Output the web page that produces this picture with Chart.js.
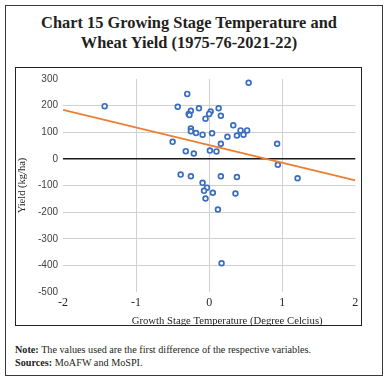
<!DOCTYPE html>
<html>
<head>
<meta charset="utf-8">
<script src="https://cdn.jsdelivr.net/npm/chart.js@4/dist/chart.umd.min.js"></script>
<style>
  html, body { margin:0; padding:0; background:#fff; }
  body { width:388px; height:381px; position:relative; overflow:hidden; font-family:"Liberation Serif","DejaVu Serif",serif; color:#231f20; }
  #frame { position:absolute; left:5px; top:5px; width:378px; height:371px; border:1px solid #3a3a3a; box-sizing:border-box; }
  #title { position:absolute; left:0px; top:13px; width:378px; text-align:center; font-weight:bold; font-size:16.4px; line-height:20px; }
  #box { position:absolute; left:15px; top:67px; width:347px; height:259px; border:1px solid #222; box-sizing:border-box; }
  #box canvas { display:block; }
  #notes { position:absolute; left:15px; top:343px; font-size:10.2px; line-height:13px; }
</style>
</head>
<body>
<div id="frame"></div>
<div id="title">Chart 15 Growing Stage Temperature and<br>Wheat Yield (1975-76-2021-22)</div>
<div id="box"><canvas id="c" width="345" height="257"></canvas></div>
<div id="notes"><b>Note:</b> The values used are the first difference of the respective variables.<br><b>Sources:</b> MoAFW and MoSPI.</div>
<script>
// Growth stage temperature (first difference, °C)
const tempDiff = [-1.43, -0.30, -0.43, -0.25, -0.28, -0.27, -0.14, 0.02, 0.00, 0.13,
                  0.16, -0.05, -0.25, -0.25, -0.18, -0.09, 0.04, 0.16, -0.50, -0.32,
                  -0.21, 0.01, 0.10, 0.25, 0.54, 0.33, 0.43, 0.52, 0.38, 0.47,
                  0.93, 0.94, 1.21, -0.39, -0.25, 0.16, 0.38, -0.09, -0.03, -0.07,
                  0.05, 0.36, -0.05, 0.12, 0.17];
// Wheat yield (first difference, kg/ha)
const yieldDiff = [198, 244, 196, 181, 169, 165, 190, 178, 169, 190,
                   162, 151, 114, 104, 97, 91, 96, 57, 64, 29,
                   20, 31, 28, 83, 286, 126, 107, 107, 88, 91,
                   57, -22, -73, -59, -65, -65, -68, -90, -108, -120,
                   -127, -130, -149, -190, -392];
// Linear trendline end points
const trendX = [-2, 2];
const trendY = [184, -81];
const xTicks = [-2, -1, 0, 1, 2];
const yTicks = [-500, -400, -300, -200, -100, 0, 100, 200, 300];

const points = tempDiff.map((x, i) => ({ x: x, y: yieldDiff[i] }));
const trend = trendX.map((x, i) => ({ x: x, y: trendY[i] }));

const titlePlugin = {
  id: 'axisTitles',
  afterDraw(chart) {
    const ctx = chart.ctx;
    const a = chart.chartArea;
    ctx.save();
    ctx.fillStyle = '#231f20';
    ctx.textAlign = 'center';
    ctx.textBaseline = 'middle';
    ctx.font = '10.7px "Liberation Serif", serif';
    const xs = chart.scales.x;
    ctx.fillText('Growth Stage Temperature (Degree Celcius)', xs.getPixelForValue(0) + 18, 253);
    ctx.font = '10.5px "Liberation Serif", serif';
    ctx.translate(6, (a.top + a.bottom) / 2);
    ctx.rotate(-Math.PI / 2);
    ctx.fillText('Yield (kg/ha)', 0, 0);
    ctx.restore();
  }
};

new Chart(document.getElementById('c'), {
  type: 'scatter',
  data: {
    datasets: [
      {
        type: 'line',
        data: trend,
        borderColor: '#ED7D31',
        borderWidth: 1.8,
        pointRadius: 0,
        fill: false,
        order: 0
      },
      {
        data: points,
        pointStyle: 'circle',
        pointRadius: 2.4,
        pointBorderWidth: 1.7,
        borderColor: '#3B6DBF',
        backgroundColor: '#ffffff',
        order: 1
      }
    ]
  },
  options: {
    responsive: false,
    animation: false,
    layout: { padding: { left: 0, top: 4, right: 3, bottom: 0 } },
    plugins: { legend: { display: false }, tooltip: { enabled: false } },
    scales: {
      x: {
        type: 'linear',
        min: -2, max: 2,
        afterBuildTicks: (s) => { s.ticks = xTicks.map(v => ({ value: v })); },
        afterFit: (s) => { s.height = 33; s.paddingRight = 0; s.paddingLeft = 0; },
        border: { display: false },
        grid: {
          drawTicks: false,
          color: (c) => (c.tick && (c.tick.value === -2 || c.tick.value === 2)) ? 'rgba(0,0,0,0)' : '#d0d0d0',
          lineWidth: 1
        },
        ticks: {
          padding: 4,
          color: '#231f20',
          font: { family: '"Liberation Serif", serif', size: 12 }
        }
      },
      y: {
        type: 'linear',
        min: -500, max: 300,
        afterBuildTicks: (s) => { s.ticks = yTicks.map(v => ({ value: v })); },
        afterFit: (s) => { s.width = 47; },
        border: { display: false },
        grid: {
          drawTicks: false,
          color: (c) => {
            const v = c.tick && c.tick.value;
            if (v === 0) return '#1a1a1a';
            if (v === 300 || v === -500) return 'rgba(0,0,0,0)';
            return '#d0d0d0';
          },
          lineWidth: (c) => (c.tick && c.tick.value === 0) ? 1.5 : 1
        },
        ticks: {
          padding: 5,
          color: '#404040',
          font: { family: '"Liberation Sans", "DejaVu Sans", sans-serif', size: 10 }
        }
      }
    }
  },
  plugins: [titlePlugin]
});
</script>
</body>
</html>
